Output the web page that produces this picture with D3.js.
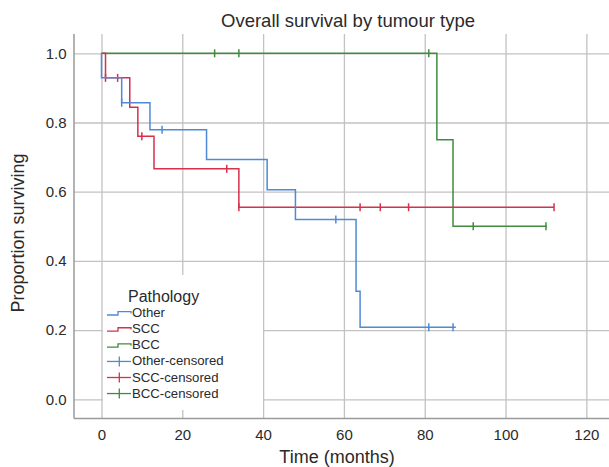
<!DOCTYPE html>
<html>
<head>
<meta charset="utf-8">
<script src="https://cdn.jsdelivr.net/npm/d3@7"></script>
<style>
  body { margin: 0; background: #fff; }
  svg text { font-family: "Liberation Sans", Arial, Helvetica, sans-serif; fill: #2a2a2a; }
</style>
</head>
<body>
<div id="chart"></div>
<script>
// Kaplan-Meier data (time in months, survival proportion)
const otherEventTimes = [0, 5, 12, 26, 41, 48, 63, 64];
const otherSurvival   = [0.929, 0.857, 0.779, 0.693, 0.606, 0.520, 0.312, 0.208];
const otherEnd = 87.7;
const otherCensored = [5, 15, 58, 81, 87];

const sccEventTimes = [1, 7, 9, 13, 34];
const sccSurvival   = [0.929, 0.844, 0.760, 0.666, 0.555];
const sccEnd = 112;
const sccCensored = [1, 4, 10, 31, 34, 64, 69, 76, 112];

const bccEventTimes = [83, 87];
const bccSurvival   = [0.75, 0.50];
const bccEnd = 110.2;
const bccCensored = [28, 34, 81, 92, 110];

const xTicks = [0, 20, 40, 60, 80, 100, 120];
const yTicks = [0, 0.2, 0.4, 0.6, 0.8, 1.0];

const legendLabels = ["Other", "SCC", "BCC", "Other-censored", "SCC-censored", "BCC-censored"];

const colors = {Other: "#4f8ad6", SCC: "#d6304d", BCC: "#3f8c3f"};

const width = 609, height = 467;
const plot = {left: 74, right: 609, top: 34, bottom: 418.5};

const svg = d3.select("#chart").append("svg")
    .attr("width", width)
    .attr("height", height);

const x = d3.scaleLinear().domain([-6.8, 125.6]).range([plot.left, plot.right]);
const y = d3.scaleLinear().domain([-0.0555, 1.0558]).range([plot.bottom, plot.top]);

// grid + tick labels
const xAxis = svg.append("g")
    .attr("transform", `translate(0,${plot.bottom})`)
    .call(d3.axisBottom(x).tickValues(xTicks).tickFormat(d3.format("d"))
        .tickSize(-(plot.bottom - plot.top)).tickPadding(11));
xAxis.select(".domain").remove();
xAxis.selectAll("line").attr("stroke", "#c2c2c2").attr("stroke-width", 1.3);
xAxis.selectAll("text").style("font-size", "15px").attr("fill", "#2a2a2a");

const yAxis = svg.append("g")
    .attr("transform", `translate(${plot.left},0)`)
    .call(d3.axisLeft(y).tickValues(yTicks).tickFormat(d3.format(".1f"))
        .tickSize(-(plot.right - plot.left)).tickPadding(7.5));
yAxis.select(".domain").remove();
yAxis.selectAll("line").attr("stroke", "#c2c2c2").attr("stroke-width", 1.3);
yAxis.selectAll("text").style("font-size", "15px").attr("fill", "#2a2a2a");

// axis lines
svg.append("line")
    .attr("x1", plot.left).attr("x2", plot.left)
    .attr("y1", plot.top).attr("y2", plot.bottom)
    .attr("stroke", "#9a9a9a").attr("stroke-width", 1.5);
svg.append("line")
    .attr("x1", plot.left).attr("x2", plot.right)
    .attr("y1", plot.bottom).attr("y2", plot.bottom)
    .attr("stroke", "#9a9a9a").attr("stroke-width", 1.5);

// build step points
function stepPoints(times, surv, end) {
    const pts = [[0, 1]];
    times.forEach((t, i) => pts.push([t, surv[i]]));
    pts.push([end, surv[surv.length - 1]]);
    return pts;
}

function survAt(t, times, surv) {
    let s = 1;
    times.forEach((tt, i) => { if (tt <= t) s = surv[i]; });
    return s;
}

const line = d3.line()
    .x(d => x(d[0]))
    .y(d => y(d[1]))
    .curve(d3.curveStepAfter);

const groups = [
    {name: "BCC", times: bccEventTimes, surv: bccSurvival, end: bccEnd, cens: bccCensored},
    {name: "SCC", times: sccEventTimes, surv: sccSurvival, end: sccEnd, cens: sccCensored},
    {name: "Other", times: otherEventTimes, surv: otherSurvival, end: otherEnd, cens: otherCensored}
];

groups.forEach(g => {
    svg.append("path")
        .attr("d", line(stepPoints(g.times, g.surv, g.end)))
        .attr("fill", "none")
        .attr("stroke", colors[g.name])
        .attr("stroke-width", 1.5);

    svg.append("g")
        .selectAll("line")
        .data(g.cens)
        .join("line")
        .attr("x1", d => x(d)).attr("x2", d => x(d))
        .attr("y1", d => y(survAt(d, g.times, g.surv)) - 4)
        .attr("y2", d => y(survAt(d, g.times, g.surv)) + 4)
        .attr("stroke", colors[g.name])
        .attr("stroke-width", 1.5);
});

// legend
const legend = svg.append("g");
legend.append("rect")
    .attr("x", 103).attr("y", 275)
    .attr("width", 160).attr("height", 135)
    .attr("fill", "#fff");

legend.append("text")
    .attr("x", 128).attr("y", 302)
    .style("font-size", "16px")
    .text("Pathology");

const legendRows = legend.selectAll("g.row")
    .data(legendLabels)
    .join("g")
    .attr("class", "row")
    .attr("transform", (d, i) => `translate(0,${317.3 + i * 16.05})`);

legendRows.append("text")
    .attr("x", 132)
    .style("font-size", "13.2px")
    .text(d => d);

legendRows.each(function(d, i) {
    const row = d3.select(this);
    const key = d.split("-")[0];
    const c = colors[key];
    if (i < 3) {
        row.append("path")
            .attr("d", "M107,-2.3H118V-5.6H131V-3.8")
            .attr("fill", "none").attr("stroke", c).attr("stroke-width", 1.3);
    } else {
        row.append("line")
            .attr("x1", 107).attr("x2", 131).attr("y1", -4).attr("y2", -4)
            .attr("stroke", c).attr("stroke-width", 1.3);
        row.append("line")
            .attr("x1", 119.3).attr("x2", 119.3).attr("y1", -9).attr("y2", 1)
            .attr("stroke", c).attr("stroke-width", 1.3);
    }
});

// titles
svg.append("text")
    .attr("x", 348).attr("y", 27)
    .attr("text-anchor", "middle")
    .style("font-size", "18.5px")
    .text("Overall survival by tumour type");

svg.append("text")
    .attr("x", 337).attr("y", 463)
    .attr("text-anchor", "middle")
    .style("font-size", "18px")
    .text("Time (months)");

svg.append("text")
    .attr("transform", "translate(24,233) rotate(-90)")
    .attr("text-anchor", "middle")
    .style("font-size", "18px")
    .text("Proportion surviving");
</script>
</body>
</html>
